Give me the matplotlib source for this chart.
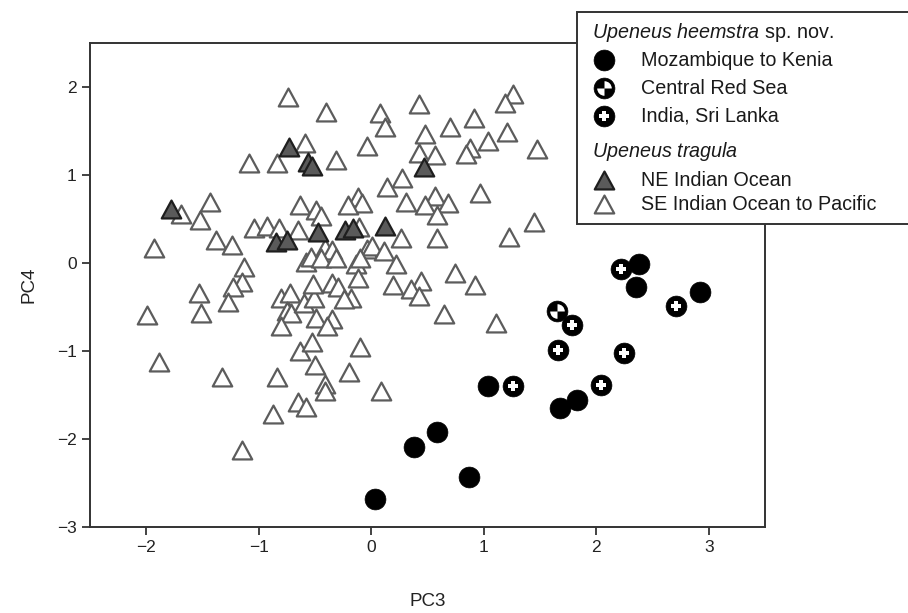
import numpy as np
import matplotlib
matplotlib.use("Agg")
import matplotlib.pyplot as plt
from matplotlib.path import Path
from matplotlib.patches import Rectangle
from matplotlib.lines import Line2D

plt.rcParams['font.family'] = ['Liberation Sans', 'DejaVu Sans']
plt.rcParams['mathtext.fontset'] = 'custom'
plt.rcParams['mathtext.rm'] = 'Liberation Sans'
plt.rcParams['mathtext.it'] = 'Liberation Sans:italic'

# ---------------- data ----------------
# Upeneus tragula, SE Indian Ocean to Pacific (open triangles)
se_x = [-0.74, -0.40, -0.59, -1.09, -0.84, -1.69, -1.43, -1.52, -1.93, -1.38,
        -1.24, -0.63, -1.04, -0.93, -0.82, -0.65, -1.13, -0.58,
        -1.53, -1.51, -1.15, -1.23, -1.27, -1.99, -1.89, -1.33, -0.84, -0.87,
        -1.15, -0.65, -0.58, -0.80, -0.72, -0.75, -0.71, -0.80, -0.60, -0.63,
        -0.53, -0.50,
        0.08, 0.12, 0.42, 1.26, 1.19, 0.91, 0.70, 0.48, 1.21, 1.04,
        0.88, 0.84, 1.47, -0.04, 0.42, 0.57, -0.31, 0.27, 0.14, 0.97,
        0.57, 0.68, 0.48, 0.31, 0.58, 1.45, -0.12, -0.08, -0.21, -0.49,
        -0.45, 0.26, 0.58, 1.22, -0.04, 0.01, 0.11, -0.14, 0.22, 0.74,
        0.92, 0.44, -0.11, -0.41, -0.35, -0.54, -0.45, -0.31, -0.10, -0.12,
        -0.35, -0.30, 0.19, 0.35, 0.42, 0.65, 1.11, -0.10, -0.20, 0.09,
        -0.41, -0.41, -0.49, -0.35, -0.39, -0.51, -0.18, -0.24, -0.52]
se_y = [1.89, 1.72, 1.36, 1.14, 1.14, 0.56, 0.69, 0.49, 0.17, 0.26,
        0.20, 0.66, 0.40, 0.42, 0.40, 0.37, -0.04, 0.01,
        -0.34, -0.57, -0.22, -0.27, -0.44, -0.59, -1.13, -1.30, -1.30, -1.72,
        -2.12, -1.58, -1.64, -0.40, -0.34, -0.55, -0.57, -0.72, -0.45, -1.00,
        -0.90, -1.16,
        1.71, 1.54, 1.81, 1.92, 1.82, 1.65, 1.55, 1.47, 1.49, 1.39,
        1.31, 1.24, 1.29, 1.33, 1.25, 1.23, 1.17, 0.97, 0.86, 0.80,
        0.76, 0.68, 0.66, 0.69, 0.54, 0.47, 0.75, 0.68, 0.66, 0.60,
        0.53, 0.28, 0.28, 0.29, 0.16, 0.19, 0.14, -0.01, -0.01, -0.11,
        -0.25, -0.20, 0.41, 0.17, 0.15, 0.07, 0.06, 0.06, 0.06, -0.17,
        -0.23, -0.27, -0.25, -0.30, -0.38, -0.58, -0.68, -0.96, -1.24, -1.46,
        -1.38, -1.45, -0.62, -0.64, -0.72, -0.40, -0.40, -0.41, -0.24]

# Upeneus tragula, NE Indian Ocean (dark triangles)
ne_x = [-1.78, -0.73, -0.56, -0.53, -0.85, -0.75, -0.47, -0.23, -0.16, 0.12, 0.47]
ne_y = [0.61, 1.32, 1.15, 1.10, 0.24, 0.26, 0.35, 0.37, 0.40, 0.42, 1.09]

# Upeneus heemstra, Mozambique to Kenia (black circles)
moz_x = [2.38, 2.35, 2.92, 1.04, 1.83, 1.68, 0.58, 0.38, 0.87, 0.03]
moz_y = [-0.01, -0.27, -0.33, -1.40, -1.56, -1.65, -1.92, -2.09, -2.43, -2.68]

# Upeneus heemstra, Central Red Sea
red_x = [1.65]
red_y = [-0.54]

# Upeneus heemstra, India, Sri Lanka
ind_x = [2.22, 2.71, 1.78, 1.66, 2.25, 1.26, 2.04]
ind_y = [-0.07, -0.49, -0.70, -0.99, -1.02, -1.40, -1.39]

x_ticks = [-2, -1, 0, 1, 2, 3]
y_ticks = [-3, -2, -1, 0, 1, 2]
x_label = "PC3"
y_label = "PC4"

legend_header1 = r"$\mathit{Upeneus\ heemstra}$ sp. nov."
legend_header2 = r"$\mathit{Upeneus\ tragula}$"
legend_items = ["Mozambique to Kenia", "Central Red Sea", "India, Sri Lanka",
                "NE Indian Ocean", "SE Indian Ocean to Pacific"]

# ---------------- styles ----------------
W, H = 908, 613
tri = Path([(0, 0.92), (-1, -0.92), (1, -0.92), (0, 0.92)],
           [Path.MOVETO, Path.LINETO, Path.LINETO, Path.CLOSEPOLY])
quad = Path.make_compound_path(Path.wedge(0, 90), Path.wedge(180, 270))

st_se = dict(marker=tri, ms=14, mfc='white', mec='#5c5c5c', mew=1.6, ls='none')
st_ne = dict(marker=tri, ms=14, mfc='#5a5a5a', mec='#1e1e1e', mew=1.6, ls='none')
st_moz = dict(marker='o', ms=15, mfc='black', mec='black', mew=0.5, ls='none')
st_red_in = dict(marker=quad, ms=10.5, mfc='white', mec='none', mew=0, ls='none')
st_ind_in = dict(marker='P', ms=6.5, mfc='white', mec='none', mew=0, ls='none')

fig = plt.figure(figsize=(W / 100, H / 100), dpi=100)
ax = fig.add_axes([90 / W, 1 - 527 / H, (765 - 90) / W, (527 - 43) / H])

ax.plot(se_x, se_y, zorder=2, **st_se)
ax.plot(ne_x, ne_y, zorder=3, **st_ne)
ax.plot(moz_x, moz_y, zorder=4, **st_moz)
ax.plot(red_x, red_y, zorder=4, **st_moz)
ax.plot(red_x, red_y, zorder=5, **st_red_in)
ax.plot(ind_x, ind_y, zorder=4, **st_moz)
ax.plot(ind_x, ind_y, zorder=5, **st_ind_in)

ax.set_xlim(-2.5, 3.5)
ax.set_ylim(-3, 2.5)
ax.set_xticks(x_ticks)
ax.set_yticks(y_ticks)
ax.tick_params(direction='out', length=6, width=1.2, labelsize=12.5,
               top=False, right=False, colors='#222222')
for s in ax.spines.values():
    s.set_linewidth(1.4)
    s.set_color('#333333')
ax.set_xlabel(x_label, fontsize=13.5, labelpad=27, color='#222222')
ax.set_ylabel(y_label, fontsize=13.5, labelpad=14, color='#222222')

# ---------------- legend (figure coordinates) ----------------
def fx(px):
    return px / W

def fy(py):
    return 1 - py / H

box = Rectangle((fx(577), fy(224)), fx(940) - fx(577), fy(12) - fy(224),
                transform=fig.transFigure, facecolor='white', edgecolor='#333333',
                lw=1.4, zorder=10, clip_on=False)
fig.add_artist(box)

txt_kw = dict(transform=fig.transFigure, fontsize=14.2, va='center', ha='left',
              zorder=12, color='#1a1a1a')
fig.text(fx(592), fy(32), legend_header1, **txt_kw)
fig.text(fx(592), fy(152), legend_header2, **txt_kw)

rows_y = [60, 88, 116, 180, 204]
mx = 604
for lab, ry in zip(legend_items, rows_y):
    fig.text(fx(641), fy(ry), lab, **txt_kw)

def leg_marker(ry, style, z=11):
    fig.add_artist(Line2D([fx(mx)], [fy(ry)], transform=fig.transFigure,
                          zorder=z, **style))

leg_marker(rows_y[0], st_moz)
leg_marker(rows_y[1], st_moz)
leg_marker(rows_y[1], st_red_in, 12)
leg_marker(rows_y[2], st_moz)
leg_marker(rows_y[2], st_ind_in, 12)
leg_marker(rows_y[3], st_ne)
leg_marker(rows_y[4], st_se)

fig.savefig("out.png", dpi=100)
